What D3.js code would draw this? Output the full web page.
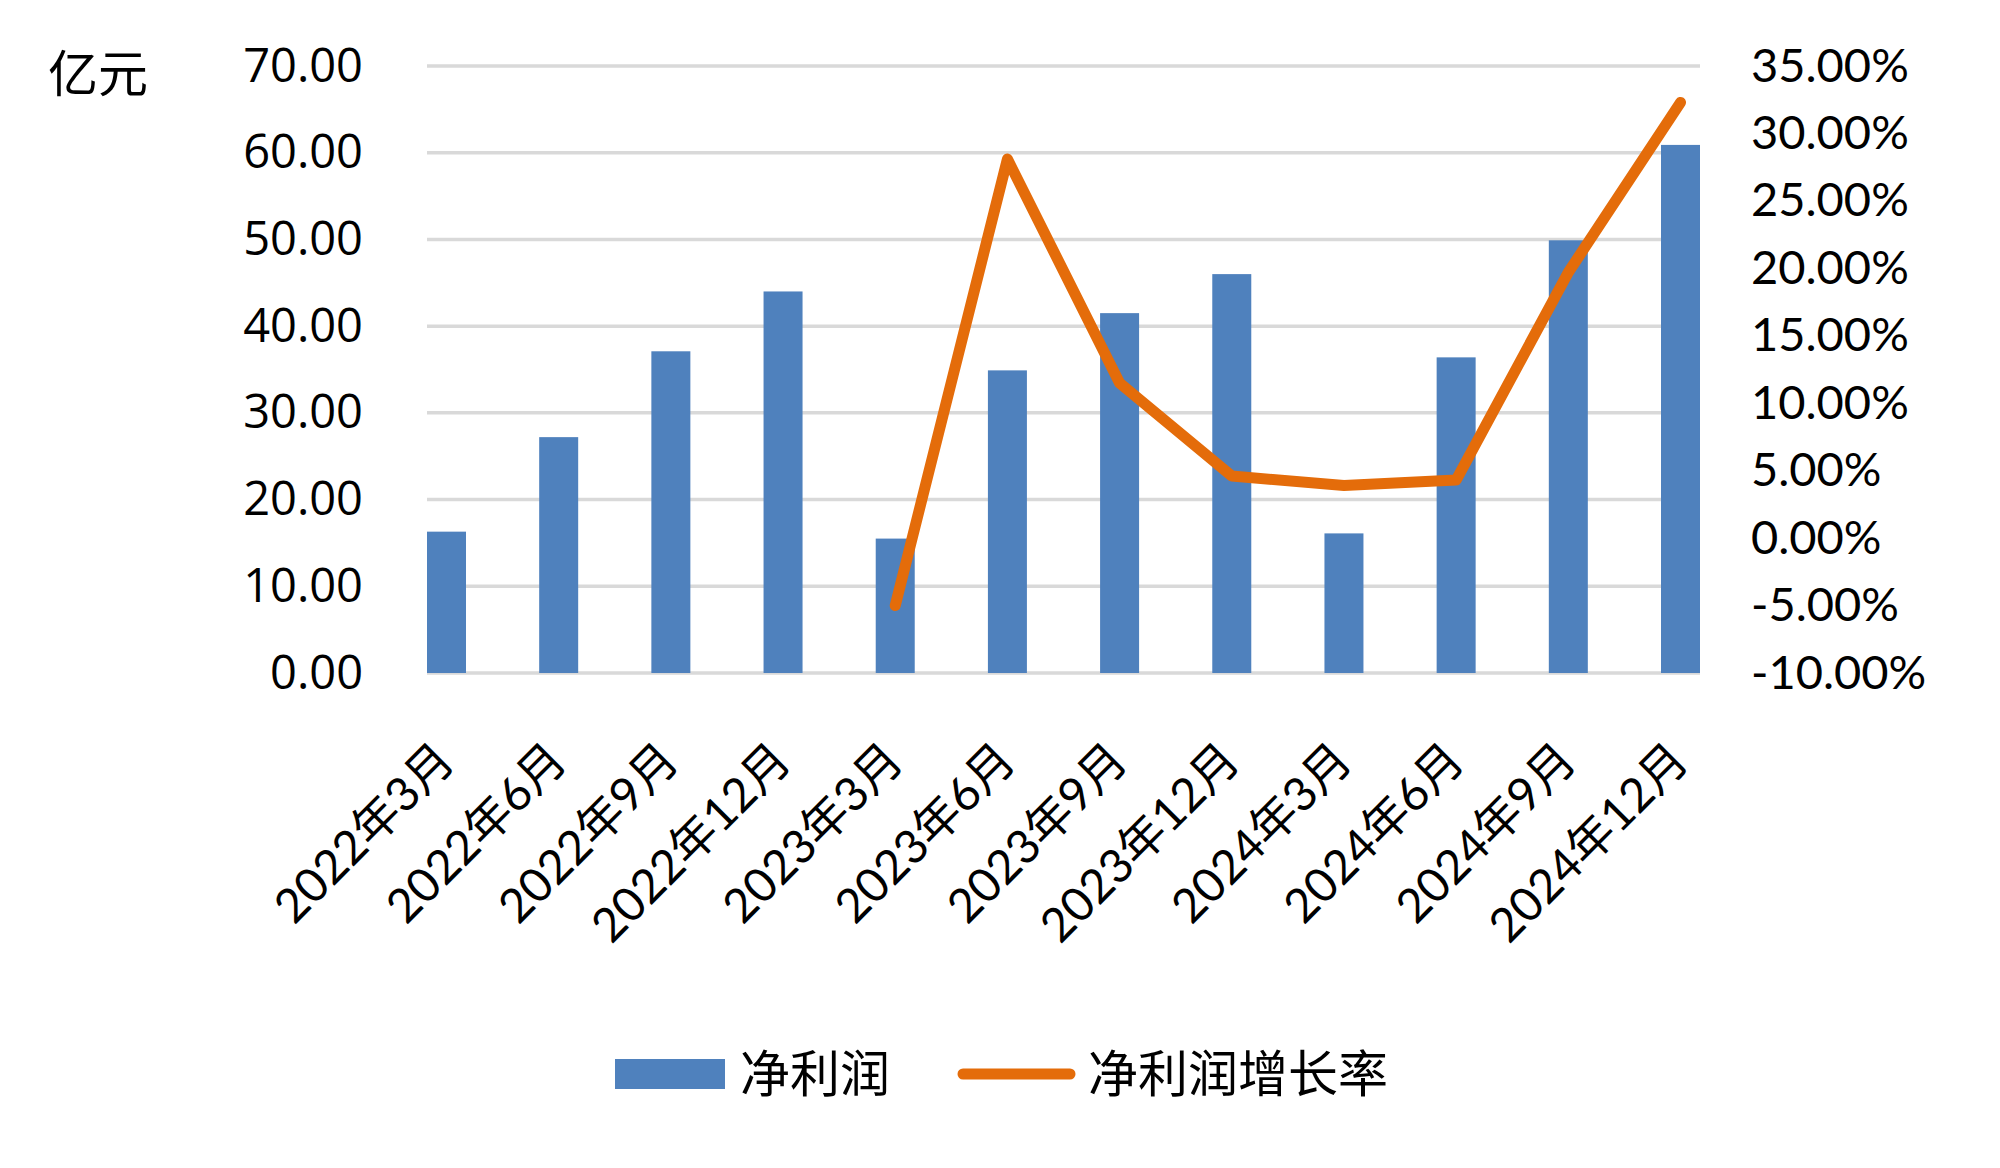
<!DOCTYPE html>
<html><head><meta charset="utf-8">
<script src="https://cdn.jsdelivr.net/npm/d3@7"></script>
<style>
html,body{margin:0;padding:0;background:#fff;}
svg{display:block;}
</style></head>
<body>
<svg id="chart" width="2000" height="1168"></svg>
<script>
const categories = ["2022年3月","2022年6月","2022年9月","2022年12月","2023年3月","2023年6月","2023年9月","2023年12月","2024年3月","2024年6月","2024年9月","2024年12月"];
const netProfit = [16.3, 27.2, 37.1, 44.0, 15.5, 34.9, 41.5, 46.0, 16.1, 36.4, 49.9, 60.9];
const growthPct = [null, null, null, null, -5.0, 28.1, 11.5, 4.6, 3.9, 4.3, 19.7, 32.3];
const leftTicks = [0, 10, 20, 30, 40, 50, 60, 70];
const rightTicks = [-0.10, -0.05, 0, 0.05, 0.10, 0.15, 0.20, 0.25, 0.30, 0.35];
const seriesNames = ["净利润", "净利润增长率"];
const unitLabel = "亿元";

const svg = d3.select("#chart");
const plotL = 427, plotR = 1700, plotT = 66, plotB = 673;
const barW = 39;
const blue = "#4F81BD", orange = "#E46C0A", grid = "#D9D9D9";
const latin = "Lato, 'Noto Sans CJK SC', sans-serif";
const cjk = "'Noto Sans CJK SC', sans-serif";

const x = d3.scalePoint().domain(categories).range([plotL + barW/2, plotR - barW/2]);
const yL = d3.scaleLinear().domain([0, 70]).range([plotB, plotT]);
const yR = d3.scaleLinear().domain([-0.10, 0.35]).range([plotB, plotT]);

// gridlines
svg.append("g").selectAll("line").data(leftTicks).join("line")
  .attr("x1", plotL).attr("x2", plotR)
  .attr("y1", d => yL(d)).attr("y2", d => yL(d))
  .attr("stroke", grid).attr("stroke-width", 3.5);

// bars
svg.append("g").selectAll("rect").data(categories).join("rect")
  .attr("x", (d) => x(d) - barW/2)
  .attr("y", (d, i) => yL(netProfit[i]))
  .attr("width", barW)
  .attr("height", (d, i) => yL(0) - yL(netProfit[i]))
  .attr("fill", blue);

// line
const lineData = categories.map((c, i) => ({c, v: growthPct[i] == null ? null : growthPct[i] / 100}));
svg.append("path").datum(lineData)
  .attr("fill", "none").attr("stroke", orange).attr("stroke-width", 11)
  .attr("stroke-linejoin", "round").attr("stroke-linecap", "round")
  .attr("d", d3.line().defined(d => d.v != null).x(d => x(d.c)).y(d => yR(d.v)));

// left axis
const gL = svg.append("g").attr("transform", `translate(${plotL},0)`)
  .call(d3.axisLeft(yL).tickValues(leftTicks).tickFormat(d3.format(".2f")).tickSize(0).tickPadding(64));
gL.select(".domain").remove();
gL.selectAll("text").attr("font-family", "'Open Sans', sans-serif").attr("font-size", 47).attr("fill", "#000");

// right axis
const pctFmt = d3.format(".2%");
const gR = svg.append("g").attr("transform", `translate(${plotR},0)`)
  .call(d3.axisRight(yR).tickValues(rightTicks).tickFormat(d => pctFmt(d).replace("−", "-")).tickSize(0).tickPadding(51));
gR.select(".domain").remove();
gR.selectAll("text").attr("font-family", latin).attr("font-size", 47).attr("fill", "#000");

// bottom axis
const gB = svg.append("g").attr("transform", `translate(0,${plotB})`)
  .call(d3.axisBottom(x).tickSize(0));
gB.select(".domain").remove();
gB.selectAll(".tick text")
  .attr("font-family", latin).attr("font-size", 47).attr("fill", "#000")
  .attr("text-anchor", "end").attr("dy", null).attr("y", null)
  .attr("transform", "translate(10,90) rotate(-45)");

// unit label
svg.append("text").attr("x", 48).attr("y", 74).attr("dy", "0.35em")
  .attr("font-family", cjk).attr("font-size", 50).attr("fill", "#000").text(unitLabel);

// legend
const lg = svg.append("g");
lg.append("rect").attr("x", 615).attr("y", 1059).attr("width", 110).attr("height", 30).attr("fill", blue);
lg.append("text").attr("x", 740).attr("y", 1074).attr("dy", "0.35em")
  .attr("font-family", cjk).attr("font-size", 50).attr("fill", "#000").text(seriesNames[0]);
lg.append("line").attr("x1", 963).attr("x2", 1070).attr("y1", 1074).attr("y2", 1074)
  .attr("stroke", orange).attr("stroke-width", 11).attr("stroke-linecap", "round");
lg.append("text").attr("x", 1088).attr("y", 1074).attr("dy", "0.35em")
  .attr("font-family", cjk).attr("font-size", 50).attr("fill", "#000").text(seriesNames[1]);
</script>
</body></html>
